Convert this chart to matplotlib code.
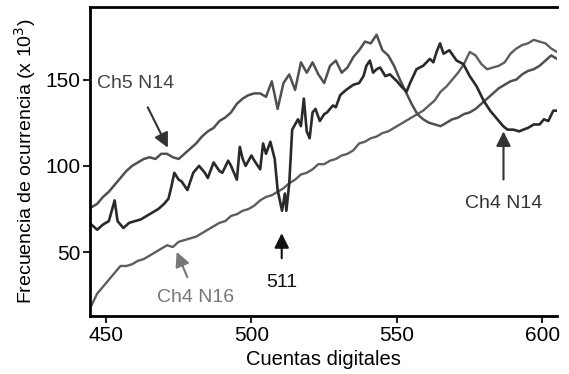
import numpy as np
import matplotlib.pyplot as plt

plt.rcParams['font.family'] = ['Liberation Sans', 'DejaVu Sans']

# Ch5 N14
ch5_n14_x = [445, 447, 449, 451, 453, 455, 457, 459, 461, 463, 465, 467, 469, 471,
             473, 475, 477, 479, 481, 483, 485, 487, 489, 491, 493, 495, 497, 499,
             501, 503, 505, 507, 509, 511, 513, 515, 517, 519, 521, 523, 525, 527,
             529, 531, 533, 535, 537, 539, 541, 543, 545, 547, 549, 551, 553, 555,
             557, 559, 561, 563, 565, 567, 569, 571, 573, 575, 577, 579, 581, 583,
             585, 587, 589, 591, 593, 595, 597, 599, 601, 603, 605]
ch5_n14_y = [76, 78, 82, 85, 89, 93, 97, 100, 102, 104, 105, 104, 107, 107,
             105, 104, 107, 110, 113, 117, 120, 122, 126, 128, 131, 136, 139, 141,
             142, 142, 140, 149, 133, 148, 153, 144, 160, 154, 160, 153, 148, 158,
             161, 154, 157, 163, 167, 172, 171, 176, 167, 164, 158, 150, 143, 136,
             130, 127, 125, 124, 123, 125, 127, 128, 130, 131, 133, 136, 139, 142,
             145, 147, 149, 150, 153, 155, 156, 158, 161, 164, 162]

# Ch4 N14
ch4_n14_x = [445, 447, 449, 451, 453, 454, 456, 458, 460, 462, 464, 466, 468, 470,
             471.5, 472.5, 473.5, 475, 476, 478, 480, 482, 484, 485, 487, 489, 490,
             492, 493, 495, 496, 497, 498, 500, 501, 503, 504, 505, 506.5, 508, 509,
             510.5, 511.5, 512, 513, 514, 515, 516, 517, 518, 519, 520, 521, 522,
             523.5, 525, 526, 527, 528, 529, 530.5, 532.5, 535, 537, 538.5, 539.5,
             540.7, 541.8, 543, 544.2, 546, 547.6, 550, 551.5, 553.3, 554.5, 556.7,
             559, 561.3, 562.5, 563.6, 564.8, 566, 568, 570.5, 572.8, 575, 577.4,
             579.7, 582, 584, 586.5, 588, 590, 592, 593.4, 595, 597, 599, 600.5, 602,
             603.7, 605]
ch4_n14_y = [66, 63, 66, 68, 80, 68, 64, 67, 68, 69, 71, 73, 75, 78,
             81, 88, 96, 92, 91, 86, 96, 100, 96, 93, 102, 97, 96,
             103, 100, 92, 111, 104, 100, 106, 103, 98, 113, 107, 114, 104, 86,
             74, 84, 74, 90, 121, 124, 127, 123, 139, 120, 116, 131, 133,
             126, 130, 131, 133, 135, 134, 141, 144, 147, 148, 152, 158,
             161, 154, 156, 157, 152, 153, 149, 146, 143, 148, 156,
             158, 162, 160, 166, 171, 165, 167, 161, 159, 152, 146,
             138, 132, 128, 123, 121, 121, 120, 121, 122, 124, 124, 127, 126,
             132, 132]

# Ch4 N16
ch4_n16_x = ch5_n14_x
ch4_n16_y = [19, 26, 30, 34, 38, 42, 42, 43, 45, 46, 48, 50, 52, 54,
             53, 56, 57, 58, 59, 61, 63, 65, 67, 68, 71, 72, 74, 75,
             77, 80, 82, 83, 85, 87, 90, 92, 95, 96, 98, 101, 101, 103,
             104, 106, 107, 109, 113, 114, 116, 117, 119, 120, 122, 124, 126, 128,
             130, 132, 135, 138, 143, 146, 150, 154, 159, 166, 164, 159, 156, 157,
             158, 160, 165, 168, 170, 171, 173, 172, 171, 168, 166]

fig = plt.figure(figsize=(5.69, 3.74), dpi=100)
ax = fig.add_axes([0.158, 0.155, 0.821, 0.826])

ax.plot(ch4_n16_x, ch4_n16_y, color='#5e5e5e', lw=1.7)
ax.plot(ch5_n14_x, ch5_n14_y, color='#505050', lw=1.8)
ax.plot(ch4_n14_x, ch4_n14_y, color='#2a2a2a', lw=1.9)

ax.set_xlim(444.5, 605)
ax.set_ylim(13, 192)
ax.set_xticks([450, 500, 550, 600])
ax.set_yticks([50, 100, 150])
ax.tick_params(labelsize=15, width=1.5, length=5, color='#222222', pad=2)
for s in ['left', 'bottom', 'top']:
    ax.spines[s].set_linewidth(2)
ax.spines['right'].set_visible(False)

ax.set_xlabel('Cuentas digitales', fontsize=14.5, labelpad=4)
ax.set_ylabel('Frecuencia de ocurrencia (x 10$^3$)', fontsize=14, labelpad=5)

# etiquetas con flechas
fs = 14
ax.annotate('Ch5 N14', xy=(471.3, 110.5), xytext=(460.3, 147.7),
            ha='center', va='center', fontsize=fs, color='#444444',
            arrowprops=dict(arrowstyle='-|>', color='#333333', lw=1.5,
                            mutation_scale=22, shrinkA=10, shrinkB=0))
ax.annotate('Ch4 N16', xy=(474.3, 50.2), xytext=(480.9, 23.8),
            ha='center', va='center', fontsize=fs, color='#777777',
            arrowprops=dict(arrowstyle='-|>', color='#777777', lw=1.5,
                            mutation_scale=22, shrinkA=7, shrinkB=0))
ax.annotate('511', xy=(510.4, 61), xytext=(510.4, 32.7),
            ha='center', va='center', fontsize=fs, color='#111111',
            arrowprops=dict(arrowstyle='-|>', color='#111111', lw=1.5,
                            mutation_scale=22, shrinkA=9, shrinkB=0))
ax.annotate('Ch4 N14', xy=(586.6, 120), xytext=(586.6, 78.3),
            ha='center', va='center', fontsize=fs, color='#333333',
            arrowprops=dict(arrowstyle='-|>', color='#333333', lw=1.5,
                            mutation_scale=22, shrinkA=9, shrinkB=0))

plt.savefig('out.png', dpi=100)
